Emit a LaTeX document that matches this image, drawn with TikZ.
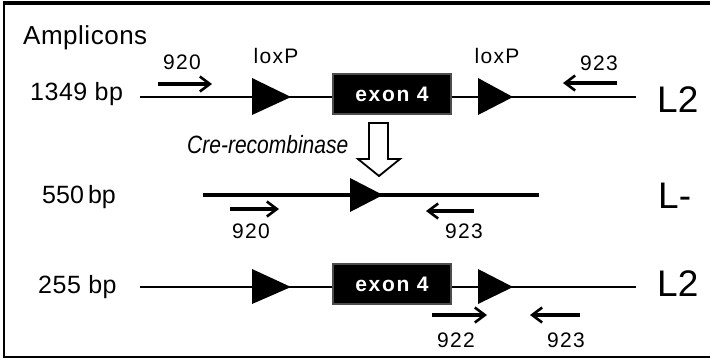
\documentclass[tikz,border=0pt]{standalone}
\usepackage{fontspec}
\setmainfont{Liberation Sans}
\usetikzlibrary{arrows.meta}
\begin{document}
\begin{tikzpicture}[x=1pt,y=-1pt,
  txt/.style={inner sep=0pt, font=\fontsize{21}{21}\selectfont\addfontfeature{LetterSpace=6}},
  bp/.style={inner sep=0pt, anchor=base west, font=\fontsize{25}{25}\selectfont},
  big/.style={inner sep=0pt, anchor=base west, font=\fontsize{37}{37}\selectfont},
  primer/.style={line width=3.5pt, -{Straight Barb[length=10pt,width=15pt,line width=2.6pt]}},
  thinline/.style={line width=1.4pt},
  thickline/.style={line width=4.5pt},
  exonbox/.style={draw=black!70, fill=black, line width=2.5pt, minimum width=118pt, minimum height=40pt, inner sep=0pt, text=white, font=\fontsize{21}{21}\selectfont\bfseries\addfontfeature{LetterSpace=8}},
  lox/.style={fill=black}
]
\useasboundingbox (0,0) rectangle (710,360);
% frame
\draw[line width=4pt] (4,3) -- (710,3);
\draw[line width=1.6pt] (4,1) -- (4,357) -- (710,357);

% ---------- row 1 ----------
\node[bp, font=\fontsize{26}{26}\selectfont\addfontfeature{LetterSpace=2}] (amp) at (23,44) {Amplicons};
\node[bp, font=\fontsize{25}{25}\selectfont\addfontfeature{LetterSpace=2}] (s1) at (30,100) {1349 bp};
\coordinate (r1a) at (140,97);
\coordinate (r1b) at (636,97);
\draw[thinline] (r1a) -- (r1b);
\fill[lox] (252,78) coordinate (t1a) -- (291,97) -- (252,115) -- cycle;
\fill[lox] (478,78) coordinate (t1b) -- (513,97) -- (478,115) -- cycle;
\node[exonbox] (ex1) at (392,94) {exon 4};
\node[txt, anchor=base] (lx1) at (276,63) {loxP};
\node[txt, anchor=base] (lx2) at (497,63) {loxP};
\coordinate (p920a) at (158,84); \coordinate (p920b) at (212,84);
\draw[primer] (p920a) -- (p920b);
\node[txt, anchor=base] (n920a) at (182,69) {920};
\coordinate (p923a) at (617,83); \coordinate (p923b) at (563,83);
\draw[primer] (p923a) -- (p923b);
\node[txt, anchor=base] (n923a) at (599,70) {923};
\node[big] (L2a) at (657,112) {L2};

% ---------- Cre arrow ----------
\node[inner sep=0pt, anchor=base west, font=\fontsize{25}{25}\selectfont\itshape] (cre) at (187,153) {\scalebox{0.84}[1]{Cre-recombinase}};
\draw[line width=1.8pt, fill=white, line join=miter]
  (369,123) -- (388,123) -- (388,159) -- (400,159) -- (379,176) coordinate (cretip) -- (358,159) -- (369,159) -- cycle;

% ---------- row 2 ----------
\node[bp] (s2) at (42,203) {550\,bp};
\coordinate (r2a) at (203,195);
\coordinate (r2b) at (539,195);
\draw[thickline] (r2a) -- (r2b);
\fill[lox] (350,178) -- (383,195) -- (350,212) -- cycle;
\coordinate (p920c) at (230,209); \coordinate (p920d) at (279,209);
\draw[primer] (p920c) -- (p920d);
\node[txt, anchor=base] (n920b) at (251,238) {920};
\coordinate (p923c) at (474,211); \coordinate (p923d) at (426,211);
\draw[primer] (p923c) -- (p923d);
\node[txt, anchor=base] (n923b) at (464,238) {923};
\node[big] (Lm) at (658,208) {L-};

% ---------- row 3 ----------
\node[bp, font=\fontsize{25}{25}\selectfont\addfontfeature{LetterSpace=2}] (s3) at (38,293) {255 bp};
\coordinate (r3a) at (140,287);
\coordinate (r3b) at (636,287);
\draw[thinline] (r3a) -- (r3b);
\fill[lox] (252,269) -- (291,287) -- (252,304) -- cycle;
\fill[lox] (478,269) -- (513,287) -- (478,304) -- cycle;
\node[exonbox] (ex2) at (392,284) {exon 4};
\coordinate (p922a) at (432,315); \coordinate (p922b) at (487,315);
\draw[primer] (p922a) -- (p922b);
\node[txt, anchor=base] (n922) at (456,347) {922};
\coordinate (p923e) at (580,315); \coordinate (p923f) at (530,315);
\draw[primer] (p923e) -- (p923f);
\node[txt, anchor=base] (n923c) at (566,347) {923};
\node[big] (L2b) at (657,296) {L2};
\end{tikzpicture}
\end{document}
